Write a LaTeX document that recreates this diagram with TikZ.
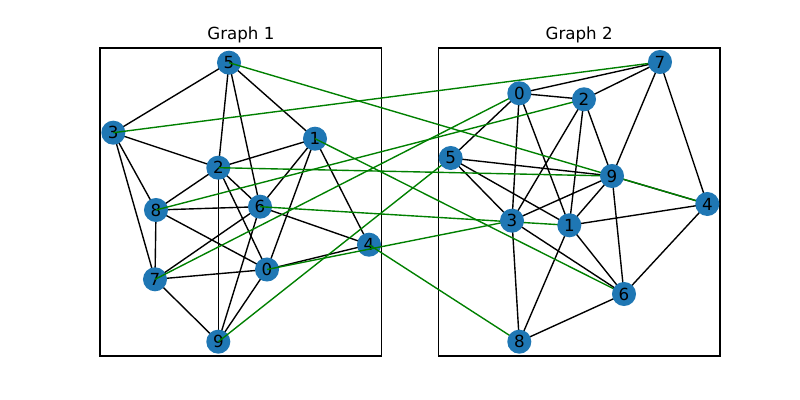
\documentclass[tikz,border=0pt]{standalone}
\usepackage{fontspec}
\setmainfont{DejaVu Sans}
\definecolor{mplblue}{HTML}{1F77B4}
\definecolor{mplgreen}{HTML}{008000}
\pgfdeclarelayer{bg}
\pgfdeclarelayer{mid}
\pgfdeclarelayer{top}
\pgfsetlayers{bg,main,mid,top}
\begin{document}
\begin{tikzpicture}[x=0.72pt,y=-0.72pt,
  vtx/.style={circle,fill=mplblue,minimum size=17.3pt,inner sep=0pt,font=\fontsize{12}{14}\selectfont},
  edge/.style={line width=1pt,black},
  xedge/.style={line width=1pt,mplgreen},
  frame/.style={line width=0.8pt,black},
  ttl/.style={font=\fontsize{12}{14}\selectfont,anchor=base}]
\useasboundingbox (0,0) rectangle (800,400);
% frames
\begin{pgfonlayer}{bg}
\draw[frame] (100,48) rectangle (381.8,356);
\end{pgfonlayer}
\begin{pgfonlayer}{mid}
\draw[frame] (438.2,48) rectangle (720,356);
\end{pgfonlayer}
\node[ttl] (t1) at (240.9,39.7) {Graph 1};
\node[ttl] (t2) at (579.1,39.7) {Graph 2};
% Graph 1 nodes
\node[vtx] (a0) at (267,269.5) {0};
\node[vtx] (a1) at (315,138.7) {1};
\node[vtx] (a2) at (218.3,167.7) {2};
\node[vtx] (a3) at (113.3,132.7) {3};
\node[vtx] (a4) at (369,244.7) {4};
\node[vtx] (a5) at (229,62.7) {5};
\node[vtx] (a6) at (260,206.7) {6};
\node[vtx] (a7) at (155,279.3) {7};
\node[vtx] (a8) at (156,210) {8};
\node[vtx] (a9) at (218.3,341.7) {9};
% Graph 2 nodes
\begin{pgfonlayer}{top}
\node[vtx] (b0) at (519.3,93.3) {0};
\node[vtx] (b1) at (569.3,225.3) {1};
\node[vtx] (b2) at (584,99.3) {2};
\node[vtx] (b3) at (512,220.7) {3};
\node[vtx] (b4) at (707.3,204) {4};
\node[vtx] (b5) at (450.7,158) {5};
\node[vtx] (b6) at (624,294) {6};
\node[vtx] (b7) at (660,62) {7};
\node[vtx] (b8) at (519.3,341.7) {8};
\node[vtx] (b9) at (612,176) {9};
\end{pgfonlayer}
\begin{pgfonlayer}{bg}
% Graph 1 edges
\foreach \u/\v in {5/3,5/2,5/6,5/1,3/2,3/8,3/7,1/2,1/6,1/0,1/4,2/8,2/6,2/0,2/9,8/6,8/0,8/7,6/7,6/9,6/4,0/4,0/7,0/9,7/9}
  \draw[edge] (a\u.center) -- (a\v.center);
\end{pgfonlayer}
\begin{pgfonlayer}{mid}
% Graph 2 edges
\foreach \u/\v in {4/7,4/9,4/1,4/6,7/9,7/2,7/0,6/9,6/1,6/3,6/8,9/2,9/1,9/3,9/5,2/1,2/3,2/0,1/0,1/5,1/8,3/8,3/0,3/5,0/5}
  \draw[edge] (b\u.center) -- (b\v.center);
% matching
\foreach \u/\v in {0/3,1/6,2/9,3/7,4/8,5/4,6/1,7/0,8/2,9/5}
  \draw[xedge] (a\u.center) -- (b\v.center);
\end{pgfonlayer}
\end{tikzpicture}
\end{document}
